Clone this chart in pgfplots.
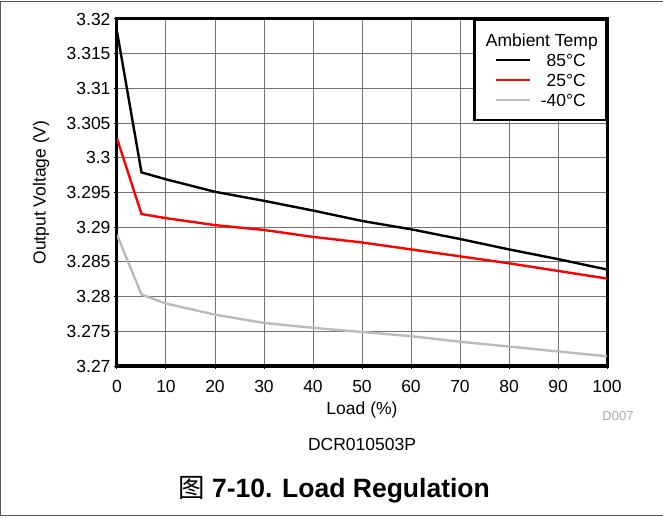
\documentclass[border=0pt]{standalone}
\usepackage{pgfplots}
\pgfplotsset{compat=1.18}
\usepackage{fontspec}
\setmainfont{Liberation Sans}
\newfontfamily\cjk{Noto Sans CJK SC}
\definecolor{lgray}{HTML}{BBBBBB}
\definecolor{dlabel}{HTML}{AAAAAA}

\begin{document}
\begin{tikzpicture}
  \useasboundingbox (-117bp,-152bp) rectangle (546bp,366bp);

  \begin{axis}[
      scale only axis,
      width=490bp, height=347bp,
      at={(0,0)}, anchor=south west,
      xmin=0, xmax=100,
      ymin=3.27, ymax=3.32,
      xtick={0,10,...,100},
      ytick={3.27,3.275,3.28,3.285,3.29,3.295,3.3,3.305,3.31,3.315,3.32},
      /pgf/number format/assume math mode=true,
      yticklabel style={/pgf/number format/fixed, /pgf/number format/precision=3},
      ticklabel style={font=\fontsize{17.5bp}{20bp}\selectfont},
      xticklabel style={yshift=-7.5bp},
      tick align=outside, tick pos=left,
      major tick length=3bp,
      tick style={black, line width=1bp},
      grid=major,
      major grid style={black!55, line width=1bp},
      axis line style={black, line width=3bp},
      xlabel={Load (\%)},
      ylabel={Output Voltage (V)},
      label style={font=\fontsize{17.5bp}{20bp}\selectfont},
      xlabel style={at={(axis description cs:0.5,-0.126)}, anchor=center},
      ylabel style={at={(axis description cs:-0.155,0.5)}, anchor=center},
      clip=true,
      legend style={
        at={(rel axis cs:1,1)}, anchor=north east,
        draw=black, line width=2.5bp, fill=white,
        inner xsep=20bp, inner ysep=10bp,
        column sep=10bp, row sep=0pt,
        nodes={inner sep=0pt, minimum height=20bp, text height=12.5bp, text depth=0bp,
               font=\fontsize{17.5bp}{20bp}\selectfont},
      },
      legend image code/.code={\draw[#1] (0bp,0bp) -- (34bp,0bp);},
    ]

    \addlegendimage{empty legend}
    \addlegendentry{\makebox[45bp][r]{Ambient Temp\kern-12bp}}

    % 85 C
    \addplot[black, line width=2.4bp] coordinates {
      (0,3.3182) (5,3.2979) (10,3.2969) (20,3.2951) (30,3.2938) (40,3.2924)
      (50,3.2909) (60,3.2897) (70,3.2883) (80,3.2868) (90,3.2854) (100,3.2839)
    };
    \addlegendentry{\makebox[45bp][r]{85°C}}

    % 25 C
    \addplot[red, line width=2.4bp] coordinates {
      (0,3.3028) (5,3.2919) (10,3.2913) (20,3.2903) (30,3.2896) (40,3.2886)
      (50,3.2878) (60,3.2868) (70,3.2858) (80,3.2848) (90,3.2837) (100,3.2826)
    };
    \addlegendentry{\makebox[45bp][r]{25°C}}

    % -40 C
    \addplot[lgray, line width=2.4bp] coordinates {
      (0,3.2889) (5,3.2803) (10,3.2790) (20,3.2774) (30,3.2762) (40,3.2755)
      (50,3.2749) (60,3.2743) (70,3.2735) (80,3.2728) (90,3.2721) (100,3.2714)
    };
    \addlegendentry{\makebox[45bp][r]{-40°C}}
  \end{axis}

  % captions
  \node[text=dlabel, font=\fontsize{13bp}{15bp}\selectfont] at (501bp,-50bp) {D007};
  \node[font=\fontsize{17.5bp}{20bp}\selectfont] at (245bp,-78bp) {DCR010503P};
  \node[font=\fontsize{26.5bp}{30bp}\selectfont\bfseries] at (217bp,-124bp)
    {{\cjk\mdseries 图} 7-10. Load Regulation};

  % figure frame
  \draw[black!65, line width=1bp] (-117bp,364.5bp) -- (546bp,364.5bp);
  \draw[black!65, line width=1bp] (-116.5bp,365bp) -- (-116.5bp,-149.5bp);
  \draw[black!65, line width=1bp] (-117bp,-149.5bp) -- (546bp,-149.5bp);
\end{tikzpicture}
\end{document}
